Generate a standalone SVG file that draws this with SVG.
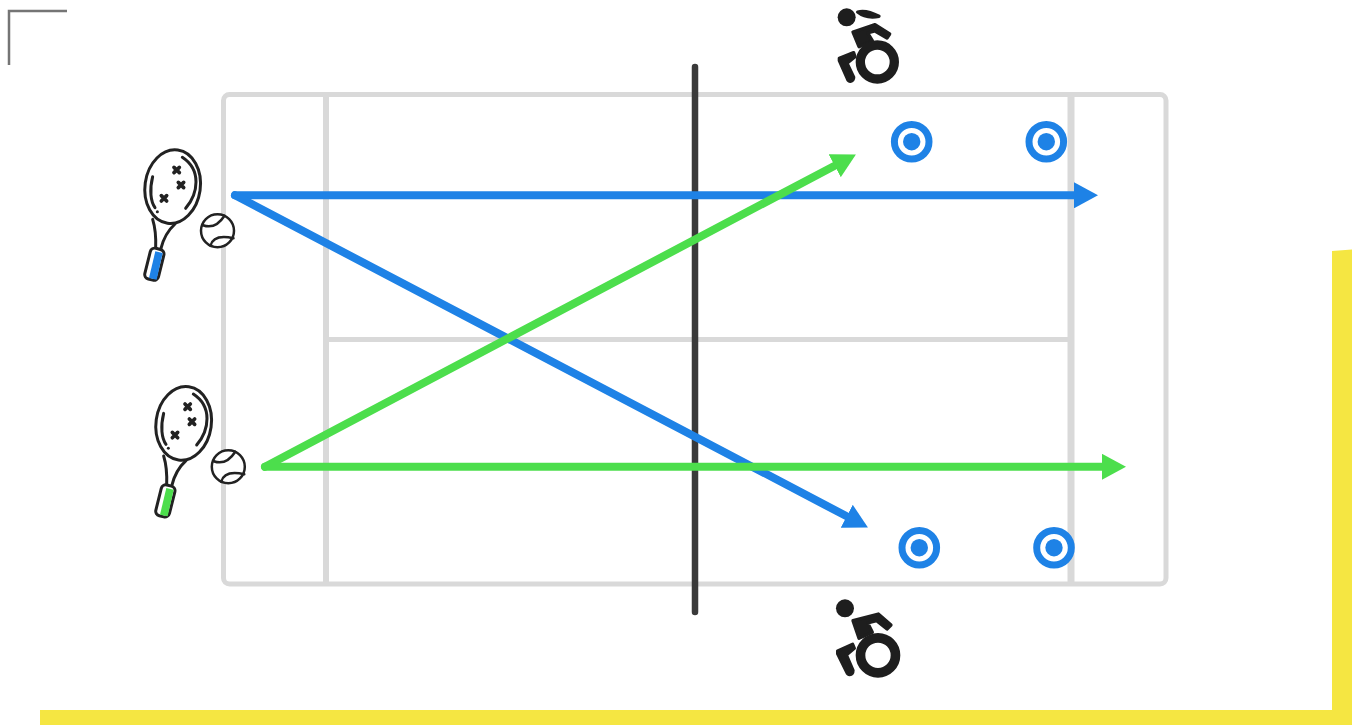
<svg xmlns="http://www.w3.org/2000/svg" xmlns:xlink="http://www.w3.org/1999/xlink" width="1353" height="725" viewBox="0 0 1353 725">
<style>
.court{fill:none;stroke:#d9d9d9;stroke-linejoin:round}
.ln{fill:none;stroke:#222;stroke-width:9;stroke-linecap:round;stroke-linejoin:round}
.x{fill:none;stroke:#222;stroke-width:11;stroke-linecap:round}
.ring{fill:#fff;stroke:#1e82e6;stroke-width:7}
.dot{fill:#1e82e6}
.ink{fill:#1e1e1e;stroke:#1e1e1e;stroke-width:10;stroke-linejoin:round}
.blue{stroke:#1e82e6;stroke-width:8;stroke-linecap:round;fill:none}
.green{stroke:#4cde4c;stroke-width:8;stroke-linecap:round;fill:none}
.ball{fill:#fff;stroke:#222;stroke-width:2.500}
.ballc{fill:none;stroke:#222;stroke-width:2.500;stroke-linecap:round}
.grip{stroke:#222;stroke-width:9;fill:#fff}
</style>
<defs>
<marker id="hb" markerUnits="userSpaceOnUse" markerWidth="24" markerHeight="26" refX="0" refY="13" orient="auto"><path d="M0 0L24 13L0 26Z" fill="#1e82e6"/></marker>
<marker id="hg" markerUnits="userSpaceOnUse" markerWidth="24" markerHeight="26" refX="0" refY="13" orient="auto"><path d="M0 0L24 13L0 26Z" fill="#4cde4c"/></marker>
<g id="racket">
<ellipse class="ln" cx="128" cy="140" rx="83" ry="111" transform="rotate(8 128 140)" style="fill:#fff"/>
<path class="ln" d="M157 52C215 90 205 160 167 205M68 110C58 150 62 185 75 203"/>
<path class="ln" d="M82 215h.1"/>
<path class="x" d="M132 82l16 16M148 82l-16 16M145 127l16 16M161 127l-16 16M94 167l16 16M110 167l-16 16"/>
<path class="ln" d="M68 238C78 270 78 300 77 325M135 252C115 270 100 295 92 328"/>
</g>
<g id="ballg">
<circle class="ball" cx="0" cy="0" r="16.500"/>
<path class="ballc" d="M-14.500 -5.500Q-2 -1 7 -15M-7 15Q-4 3 16 7.500"/>
</g>
</defs>
<g id="frame">
<path d="M40 710H1332V251L1352 249.500V725H40Z" fill="#f5e642"/>
<path d="M9 65V11H67" fill="none" stroke="#757575" stroke-width="2.500"/>
</g>
<g id="court">
<rect class="court" x="223.500" y="94.500" width="942.500" height="489.500" rx="6" stroke-width="5"/>
<path class="court" d="M326 95V584" stroke-width="6"/>
<path class="court" d="M1071 95V584" stroke-width="7"/>
<path class="court" d="M326 339.500H1071" stroke-width="5"/>
</g>
<g id="net"><path d="M695 67V612" stroke="#3a3a3a" stroke-width="6.500" stroke-linecap="round" fill="none"/></g>
<g id="targets">
<g id="target-1"><circle class="ring" cx="911.700" cy="141.700" r="17.300"/><circle class="dot" cx="911.700" cy="141.700" r="8.700"/></g>
<g id="target-2"><circle class="ring" cx="1046.300" cy="141.700" r="17.300"/><circle class="dot" cx="1046.300" cy="141.700" r="8.700"/></g>
<g id="target-3"><circle class="ring" cx="919.300" cy="547.700" r="17.300"/><circle class="dot" cx="919.300" cy="547.700" r="8.700"/></g>
<g id="target-4"><circle class="ring" cx="1054" cy="547.700" r="17.300"/><circle class="dot" cx="1054" cy="547.700" r="8.700"/></g>
</g>
<g id="connectors">
<path class="blue" d="M235 195.300H1074" marker-end="url(#hb)"/>
<path class="blue" d="M235 195.300L846.700 516.300" marker-end="url(#hb)"/>
<path class="green" d="M265 466.800L834.700 165.700" marker-end="url(#hg)"/>
<path class="green" d="M265 466.800H1102" marker-end="url(#hg)"/>
</g>
<g id="player-1" transform="translate(130 140) scale(.3333)">
<use href="#racket"/>
<rect class="grip" x="52" y="325" width="42" height="95" rx="14" transform="rotate(14 72 373)"/>
<path d="M76 334L98 339L80 419L57 414Z" fill="#1e82e6"/>
</g>
<g id="ball-1" transform="translate(217.500 230.700)"><use href="#ballg"/></g>
<g id="player-2" transform="translate(141 376.700) scale(.3333)">
<use href="#racket"/>
<rect class="grip" x="52" y="325" width="42" height="95" rx="14" transform="rotate(14 72 373)"/>
<path d="M76 334L98 339L80 419L57 414Z" fill="#4cde4c"/>
</g>
<g id="ball-2" transform="translate(228.300 466.700)"><use href="#ballg"/></g>
<g id="athlete-top" transform="translate(825 0) scale(.3333)">
<circle cx="65" cy="52" r="27" fill="#1e1e1e"/>
<path class="ink" d="M98 36C120 30 145 40 162 49C140 53 115 50 98 36Z"/>
<path class="ink" d="M84 96L150 74L194 102L186 114L150 93L128 99L142 122L102 140Z"/>
<path class="ink" d="M43 175L86 158L90 170L66 190L86 232Q86 242 76 244Q70 244 67 236L43 182Z"/>
<circle cx="157" cy="186" r="51" fill="none" stroke="#1e1e1e" stroke-width="28"/>
</g>
<g id="athlete-bottom" transform="translate(825 595) scale(.3333)">
<circle cx="60" cy="40" r="27" fill="#1e1e1e"/>
<path class="ink" d="M84 77L160 57L198 90L186 102L155 77L128 84L142 112L102 130Z"/>
<path class="ink" d="M38 168L83 148L88 160L64 180L84 226Q84 238 74 239Q68 239 65 231L38 176Z"/>
<circle cx="159" cy="181" r="52.500" fill="none" stroke="#1e1e1e" stroke-width="29"/>
</g>
</svg>
